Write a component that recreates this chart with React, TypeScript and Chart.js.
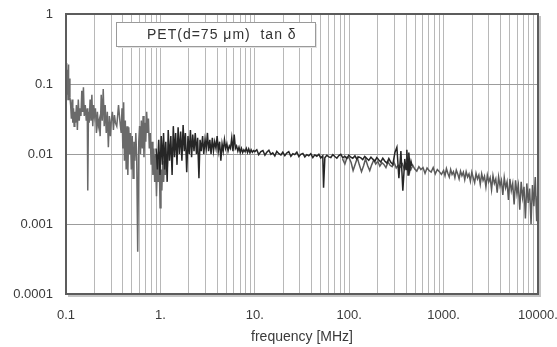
import React, { useEffect, useRef } from "react";
import { Chart, registerables } from "chart.js";

Chart.register(...registerables);

// ---------- data ----------
const legendLabel = "PET(d=75 μm)  tan δ";
const xTitle = "frequency [MHz]";

const xGridValues = [
  0.1, 0.2, 0.3, 0.4, 0.5, 0.6, 0.7, 0.8, 0.9,
  1, 2, 3, 4, 5, 6, 7, 8, 9,
  10, 20, 30, 40, 50, 60, 70, 80, 90,
  100, 200, 300, 400, 500, 600, 700, 800, 900,
  1000, 2000, 3000, 4000, 5000, 6000, 7000, 8000, 9000,
  10000,
];
const xDecades = [0.1, 1, 10, 100, 1000, 10000];
const xDecadeLabels = ["0.1", "1.", "10.", "100.", "1000.", "10000."];
const yTicks = [0.0001, 0.001, 0.01, 0.1, 1];
const yTickLabels = ["0.0001", "0.001", "0.01", "0.1", "1"];

// low-frequency segment (light grey)
const freqA = [
  0.100, 0.101, 0.102, 0.103, 0.104, 0.105, 0.106, 0.107, 0.108, 0.110,
  0.112, 0.114, 0.116, 0.118, 0.120, 0.122, 0.124, 0.126,
  0.129, 0.132, 0.135, 0.138, 0.141,
  0.144, 0.147, 0.150, 0.153, 0.156,
  0.160, 0.164, 0.168, 0.170, 0.173, 0.176,
  0.180, 0.184, 0.188, 0.192, 0.196, 0.200,
  0.205, 0.210, 0.215, 0.220, 0.225, 0.230,
  0.236, 0.242, 0.248, 0.254, 0.260,
  0.267, 0.274, 0.281, 0.288, 0.295, 0.302,
  0.310, 0.318, 0.326, 0.334,
  0.345, 0.360, 0.372,
  0.384, 0.392, 0.400, 0.408, 0.416, 0.425, 0.434, 0.443, 0.452,
  0.462, 0.472, 0.482, 0.492, 0.503, 0.514, 0.525, 0.537,
  0.549, 0.561, 0.575, 0.590,
  0.602, 0.615, 0.628, 0.642, 0.656, 0.670, 0.685, 0.700, 0.715, 0.731, 0.747,
  0.763, 0.780, 0.797, 0.815, 0.833, 0.851, 0.870, 0.889, 0.909, 0.929,
  0.950, 0.971, 0.992, 1.014, 1.036, 1.059, 1.082, 1.106, 1.130, 1.155, 1.180, 1.210,
];
const tanA = [
  0.17, 0.07, 0.20, 0.09, 0.16, 0.06, 0.19, 0.08, 0.12, 0.065,
  0.05, 0.032, 0.06, 0.028, 0.045, 0.025, 0.04, 0.028,
  0.05, 0.022, 0.06, 0.03, 0.045,
  0.035, 0.08, 0.04, 0.09, 0.035,
  0.05, 0.03, 0.045, 0.003, 0.04, 0.028,
  0.06, 0.03, 0.07, 0.025, 0.05, 0.035,
  0.045, 0.02, 0.04, 0.025, 0.03, 0.018,
  0.07, 0.03, 0.085, 0.025, 0.05,
  0.02, 0.04, 0.0125, 0.035, 0.018, 0.03,
  0.04, 0.022, 0.036, 0.028,
  0.025, 0.05, 0.03,
  0.02, 0.045, 0.012, 0.055, 0.008, 0.03, 0.006, 0.025, 0.005,
  0.024, 0.01, 0.02, 0.006, 0.018, 0.0045, 0.015, 0.008,
  0.02, 0.009, 0.0004, 0.015,
  0.025, 0.01, 0.03, 0.012, 0.035, 0.009, 0.028, 0.015, 0.04, 0.02, 0.032,
  0.012, 0.02, 0.007, 0.015, 0.005, 0.012, 0.004, 0.01, 0.0025, 0.008,
  0.004, 0.009, 0.0017, 0.006, 0.003, 0.008, 0.004, 0.01, 0.005, 0.009, 0.006, 0.011,
];

// mid-frequency segment (dark)
const freqB = [
  0.90, 0.93, 0.96, 0.99, 1.02, 1.05, 1.08, 1.11, 1.14, 1.18,
  1.21, 1.25, 1.29, 1.33, 1.37, 1.41, 1.45, 1.50, 1.54, 1.59,
  1.64, 1.69, 1.74, 1.79, 1.84, 1.90, 1.96, 2.02, 2.08, 2.14,
  2.20, 2.27, 2.34, 2.41, 2.48, 2.56, 2.63, 2.71, 2.80, 2.88,
  2.97, 3.06, 3.15, 3.24, 3.34, 3.44, 3.55, 3.65, 3.76, 3.88,
  3.99, 4.11, 4.24, 4.37, 4.50, 4.63, 4.77, 4.91, 5.06, 5.21,
  5.37, 5.53, 5.70, 5.87, 6.05, 6.23, 6.41, 6.61, 6.80, 7.01,
  7.22, 7.44, 7.66, 7.89, 8.13, 8.37, 8.62, 8.88, 9.15, 9.42,
  9.70, 10.0,
  10.5, 11.0, 11.6, 12.2, 12.8, 13.4, 14.1, 14.8, 15.5, 16.3,
  17.1, 18.0, 18.9, 19.8, 20.8, 21.8, 22.9, 24.1, 25.3, 26.5,
  27.9, 29.3, 30.7, 32.3, 33.9, 35.6, 37.3, 39.2, 41.2, 43.2,
  45.4, 47.7, 50.0, 52.5, 53.5, 55.2, 57.9, 60.8, 63.9, 67.1,
  70.4, 74.0, 77.7, 81.5, 85.6, 89.9, 94.4, 99.1, 104, 109,
  115, 120, 126, 133, 139, 146, 154, 161, 170, 178,
  187, 196, 206, 216, 227, 239, 251, 263, 276, 290,
  305, 320, 336, 353, 370, 388, 400, 408, 420, 428,
  441, 452, 463,
];
const tanB = [
  0.012, 0.006, 0.016, 0.005, 0.018, 0.007, 0.02, 0.006, 0.015, 0.004,
  0.022, 0.008, 0.018, 0.005, 0.025, 0.009, 0.02, 0.007, 0.024, 0.01,
  0.021, 0.008, 0.026, 0.011, 0.02, 0.0055, 0.018, 0.01, 0.022, 0.009,
  0.019, 0.011, 0.02, 0.01, 0.017, 0.0045, 0.016, 0.011, 0.018, 0.01,
  0.016, 0.012, 0.02, 0.011, 0.016, 0.01, 0.017, 0.011, 0.015, 0.012,
  0.018, 0.011, 0.015, 0.008, 0.014, 0.011, 0.016, 0.012, 0.014, 0.011,
  0.013, 0.012, 0.017, 0.011, 0.019, 0.012, 0.013, 0.011, 0.0125, 0.0105,
  0.012, 0.0105, 0.0115, 0.0108, 0.012, 0.0105, 0.0118, 0.0104, 0.0115, 0.0106,
  0.0112, 0.0108,
  0.0115, 0.0098, 0.0108, 0.0112, 0.0096, 0.0106, 0.0113, 0.0099, 0.0104, 0.0094,
  0.0109, 0.0101, 0.0097, 0.0106, 0.0095, 0.0103, 0.0108, 0.0093, 0.0101, 0.0098,
  0.0106, 0.0092, 0.0099, 0.0102, 0.0091, 0.0098, 0.0094, 0.0101, 0.0089, 0.0097,
  0.0093, 0.0099, 0.0088, 0.0094, 0.0033, 0.0088, 0.0096, 0.0091, 0.0089, 0.0098,
  0.0092, 0.0087, 0.0095, 0.0099, 0.0088, 0.0093, 0.0086, 0.0096, 0.009, 0.0087,
  0.0094, 0.0085, 0.0091, 0.0088, 0.0083, 0.0092, 0.0086, 0.0081, 0.009, 0.0084,
  0.0079, 0.0089, 0.0082, 0.0077, 0.0087, 0.0079, 0.0074, 0.0086, 0.0076, 0.0071,
  0.0105, 0.0125, 0.0045, 0.011, 0.003, 0.0085, 0.006, 0.0115, 0.005, 0.0105,
  0.0062, 0.0078, 0.0068,
];

// high-frequency segment (grey)
const freqC = [
  85, 90, 95, 100, 105, 110, 116, 122, 128, 135,
  142, 149, 157, 165, 173, 182, 191, 201, 211, 222,
  233, 245, 258, 271, 285, 300, 315, 331, 348, 366,
  385, 405, 426, 448, 471, 495, 520, 547, 575, 605,
  636, 668, 702, 738, 776, 816, 858, 902, 948,
  1000, 1035, 1071, 1109, 1148, 1188, 1229, 1272, 1317, 1363,
  1411, 1460, 1511, 1564, 1619, 1675, 1734, 1795, 1857, 1922,
  1990, 2059, 2132, 2206, 2283, 2363, 2446, 2532, 2620, 2712,
  2807, 2905, 3007, 3112, 3221, 3334, 3450, 3571, 3696, 3825,
  3959, 4098, 4241, 4390, 4543, 4702, 4867, 5037, 5214, 5396,
  5585, 5780, 5983, 6192, 6409, 6633, 6865, 7106, 7354, 7612,
  7878, 8154, 8439, 8734, 9040, 9356, 9684, 9900, 9990,
];
const tanC = [
  0.0085, 0.0072, 0.009, 0.0088, 0.0075, 0.0058, 0.0072, 0.0088, 0.007, 0.0056,
  0.0068, 0.0085, 0.0068, 0.0058, 0.007, 0.0082, 0.0072, 0.0079, 0.0067, 0.0075,
  0.0071, 0.0064, 0.0077, 0.0069, 0.0066, 0.0075, 0.0063, 0.0069, 0.0065, 0.0072,
  0.006, 0.0068, 0.0063, 0.0059, 0.0069, 0.0061, 0.0057, 0.0066, 0.006, 0.0064,
  0.0053, 0.0063, 0.0058, 0.0055, 0.0064, 0.0052, 0.006, 0.0056, 0.0051,
  0.0058, 0.0049, 0.0062, 0.0053, 0.0047, 0.006, 0.0051, 0.0056, 0.0046, 0.0059,
  0.0052, 0.0044, 0.0057, 0.0049, 0.0055, 0.0043, 0.0056, 0.0047, 0.0052, 0.0041,
  0.0055, 0.0046, 0.0039, 0.0053, 0.0044, 0.005, 0.0037, 0.0052, 0.0042, 0.0048,
  0.0034, 0.005, 0.004, 0.0046, 0.0031, 0.0049, 0.0038, 0.0044, 0.0028, 0.0047,
  0.0035, 0.0042, 0.0026, 0.0046, 0.0033, 0.004, 0.0022, 0.0044, 0.003, 0.0038,
  0.0019, 0.0042, 0.0027, 0.0036, 0.0016, 0.004, 0.0024, 0.0034, 0.0012, 0.0038,
  0.002, 0.0032, 0.001, 0.0036, 0.0018, 0.0047, 0.0011, 0.0025, 0.0006,
];

function pts(xs: number[], ys: number[]) {
  const n = Math.min(xs.length, ys.length);
  const out: { x: number; y: number }[] = [];
  for (let i = 0; i < n; i++) out.push({ x: xs[i], y: ys[i] });
  return out;
}

const FONT = "'Liberation Sans', Arial, sans-serif";

const framePlugin = {
  id: "frameAndLegend",
  afterDatasetsDraw(chart: any) {
    const { ctx, chartArea } = chart;
    const { left, top, right, bottom } = chartArea;
    ctx.save();
    // frame shadow
    ctx.strokeStyle = "#c4c4c4";
    ctx.lineWidth = 2;
    ctx.beginPath();
    ctx.moveTo(right + 2, top + 2);
    ctx.lineTo(right + 2, bottom + 2);
    ctx.lineTo(left + 2, bottom + 2);
    ctx.stroke();
    // frame
    ctx.strokeStyle = "#5c5c5c";
    ctx.lineWidth = 2;
    ctx.strokeRect(left, top, right - left, bottom - top);

    // legend box
    const bx = left + 50;
    const by = top + 8;
    const bw = 199;
    const bh = 24;
    ctx.fillStyle = "#e2e2e2";
    ctx.fillRect(bx + 2, by + 2, bw, bh);
    ctx.fillStyle = "#ffffff";
    ctx.fillRect(bx, by, bw, bh);
    ctx.strokeStyle = "#9a9a9a";
    ctx.lineWidth = 1;
    ctx.strokeRect(bx + 0.5, by + 0.5, bw, bh);
    ctx.fillStyle = "#333333";
    ctx.font = `14px ${FONT}`;
    (ctx as any).letterSpacing = "1px";
    ctx.textBaseline = "middle";
    ctx.textAlign = "left";
    ctx.fillText(legendLabel, bx + 31, by + bh / 2 + 1);
    ctx.restore();
  },
};

export default function App() {
  const ref = useRef<HTMLCanvasElement | null>(null);

  useEffect(() => {
    if (!ref.current) return;
    const chart = new Chart(ref.current, {
      type: "line",
      data: {
        datasets: [
          {
            label: "B",
            data: pts(freqB, tanB),
            borderColor: "#262626",
            borderWidth: 1.5,
            pointRadius: 0,
            tension: 0,
          },
          {
            label: "A",
            data: pts(freqA, tanA),
            borderColor: "#6a6a6a",
            borderWidth: 1.5,
            pointRadius: 0,
            tension: 0,
          },
          {
            label: "C",
            data: pts(freqC, tanC),
            borderColor: "#5a5a5a",
            borderWidth: 1.5,
            pointRadius: 0,
            tension: 0,
          },
        ],
      },
      options: {
        animation: false,
        responsive: false,
        maintainAspectRatio: false,
        layout: { padding: { left: 0, top: 14, right: 19, bottom: 0 } },
        plugins: {
          legend: { display: false },
          tooltip: { enabled: false },
          title: { display: false },
        },
        scales: {
          x: {
            type: "logarithmic",
            min: 0.1,
            max: 10000,
            afterBuildTicks: (scale: any) => {
              scale.ticks = xGridValues.map((v) => ({ value: v }));
            },
            afterFit: (scale: any) => {
              scale.height = 53;
              scale.paddingLeft = 0;
              scale.paddingRight = 0;
            },
            ticks: {
              autoSkip: false,
              maxRotation: 0,
              minRotation: 0,
              padding: 14,
              color: "#3a3a3a",
              font: { family: FONT, size: 13 },
              callback: (value: any) => {
                const v = Number(value);
                for (let i = 0; i < xDecades.length; i++) {
                  if (Math.abs(v - xDecades[i]) / xDecades[i] < 1e-6) return xDecadeLabels[i];
                }
                return "";
              },
            },
            grid: {
              color: "#b8b8b8",
              lineWidth: 1,
              drawTicks: false,
            },
            border: { display: false },
            title: {
              display: true,
              text: xTitle,
              color: "#3a3a3a",
              font: { family: FONT, size: 14 },
              padding: { top: 0, bottom: 1 },
            },
          },
          y: {
            type: "logarithmic",
            min: 0.0001,
            max: 1,
            afterBuildTicks: (scale: any) => {
              scale.ticks = yTicks.map((v) => ({ value: v }));
            },
            afterFit: (scale: any) => {
              scale.width = 66;
              scale.paddingTop = 0;
              scale.paddingBottom = 0;
            },
            ticks: {
              autoSkip: false,
              padding: 13,
              color: "#3a3a3a",
              font: { family: FONT, size: 13 },
              callback: (value: any) => {
                const v = Number(value);
                for (let i = 0; i < yTicks.length; i++) {
                  if (Math.abs(v - yTicks[i]) / yTicks[i] < 1e-6) return yTickLabels[i];
                }
                return "";
              },
            },
            grid: {
              color: "#9c9c9c",
              lineWidth: 1,
              drawTicks: false,
            },
            border: { display: false },
          },
        },
      },
      plugins: [framePlugin],
    });
    return () => chart.destroy();
  }, []);

  return (
    <div style={{ position: "fixed", left: 0, top: 0, width: 557, height: 347, background: "#ffffff" }}>
      <canvas ref={ref} width={557} height={347} style={{ display: "block", width: 557, height: 347 }} />
    </div>
  );
}
